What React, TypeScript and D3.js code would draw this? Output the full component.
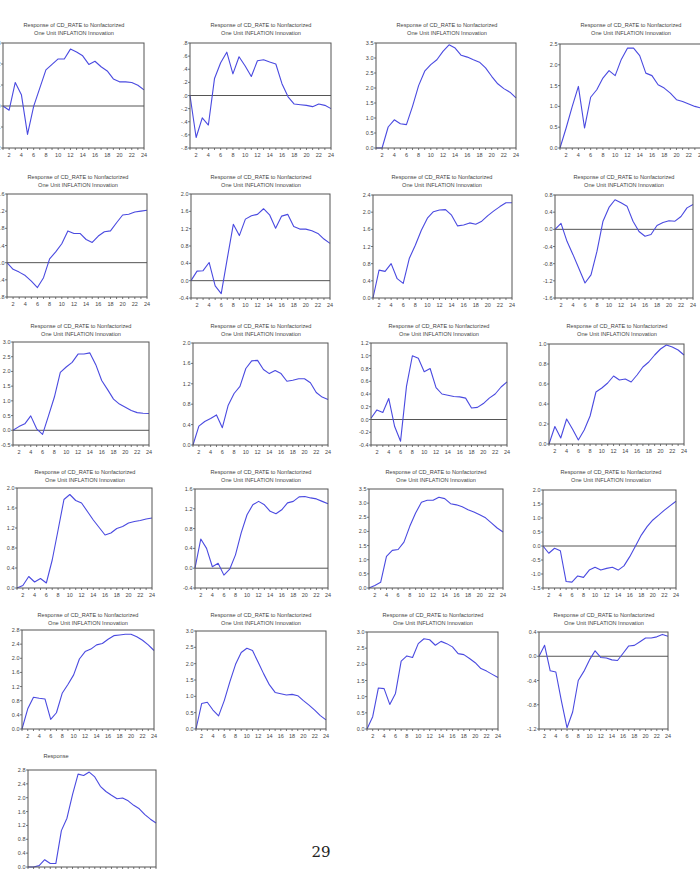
import React from "react";
import * as d3 from "d3";

// ---- categories ----
const periods = [1, 2, 3, 4, 5, 6, 7, 8, 9, 10, 11, 12, 13, 14, 15, 16, 17, 18, 19, 20, 21, 22, 23, 24];
const xTickLabels = ["2", "4", "6", "8", "10", "12", "14", "16", "18", "20", "22", "24"];

const titleLine1 = "Response of CD_RATE to Nonfactorized";
const titleLine2 = "One Unit INFLATION Innovation";
const lastTitle = "Response";
const pageNumber = "29";

// ---- y tick labels per panel ----
const yt1 = ["3", "2", "1", "0", "-1", "-2"];
const yt2 = [".8", ".6", ".4", ".2", ".0", "-.2", "-.4", "-.6", "-.8"];
const yt3 = ["3.5", "3.0", "2.5", "2.0", "1.5", "1.0", "0.5", "0.0"];
const yt4 = ["2.5", "2.0", "1.5", "1.0", "0.5", "0.0"];
const yt5 = ["1.6", "1.2", "0.8", "0.4", "0.0", "-0.4", "-0.8"];
const yt6 = ["2.0", "1.6", "1.2", "0.8", "0.4", "0.0", "-0.4"];
const yt7 = ["2.4", "2.0", "1.6", "1.2", "0.8", "0.4", "0.0"];
const yt8 = ["0.8", "0.4", "0.0", "-0.4", "-0.8", "-1.2", "-1.6"];
const yt9 = ["3.0", "2.5", "2.0", "1.5", "1.0", "0.5", "0.0", "-0.5"];
const yt10 = ["2.0", "1.6", "1.2", "0.8", "0.4", "0.0"];
const yt11 = ["1.2", "1.0", "0.8", "0.6", "0.4", "0.2", "0.0", "-0.2", "-0.4"];
const yt12 = ["1.0", "0.8", "0.6", "0.4", "0.2", "0.0"];
const yt13 = ["2.0", "1.6", "1.2", "0.8", "0.4", "0.0"];
const yt14 = ["1.6", "1.2", "0.8", "0.4", "0.0", "-0.4"];
const yt15 = ["3.5", "3.0", "2.5", "2.0", "1.5", "1.0", "0.5", "0.0"];
const yt16 = ["2.0", "1.5", "1.0", "0.5", "0.0", "-0.5", "-1.0", "-1.5"];
const yt17 = ["2.8", "2.4", "2.0", "1.6", "1.2", "0.8", "0.4", "0.0"];
const yt18 = ["3.0", "2.5", "2.0", "1.5", "1.0", "0.5", "0.0"];
const yt19 = ["3.0", "2.5", "2.0", "1.5", "1.0", "0.5", "0.0"];
const yt20 = ["0.4", "0.0", "-0.4", "-0.8", "-1.2"];
const yt21 = ["2.8", "2.4", "2.0", "1.6", "1.2", "0.8", "0.4", "0.0"];

// ---- series values (responses, periods 1..24) ----
const s1 = [0, -0.2, 1.12, 0.54, -1.35, -0.02, 0.85, 1.72, 1.98, 2.24, 2.24, 2.71, 2.57, 2.39, 1.98, 2.13, 1.87, 1.67, 1.29, 1.15, 1.15, 1.12, 0.99, 0.77];
const s2 = [0, -0.64, -0.34, -0.45, 0.26, 0.5, 0.66, 0.33, 0.59, 0.45, 0.29, 0.53, 0.545, 0.51, 0.48, 0.18, -0.02, -0.13, -0.14, -0.15, -0.17, -0.13, -0.15, -0.2];
const s3 = [0, 0, 0.7, 0.94, 0.81, 0.78, 1.39, 2.08, 2.56, 2.78, 2.94, 3.22, 3.44, 3.33, 3.09, 3.03, 2.94, 2.86, 2.67, 2.39, 2.14, 1.98, 1.86, 1.67];
const s4 = [0, 0.48, 1.0, 1.48, 0.48, 1.22, 1.4, 1.68, 1.86, 1.74, 2.13, 2.4, 2.4, 2.22, 1.8, 1.74, 1.52, 1.44, 1.32, 1.16, 1.12, 1.06, 1.0, 0.96];
const s5 = [0, -0.155, -0.22, -0.3, -0.43, -0.58, -0.35, 0.09, 0.25, 0.44, 0.74, 0.68, 0.68, 0.54, 0.47, 0.62, 0.72, 0.74, 0.93, 1.11, 1.13, 1.18, 1.2, 1.22];
const s6 = [0, 0.22, 0.23, 0.42, -0.12, -0.3, 0.51, 1.3, 1.04, 1.42, 1.5, 1.53, 1.66, 1.52, 1.21, 1.49, 1.53, 1.25, 1.19, 1.19, 1.15, 1.09, 0.96, 0.86];
const s7 = [0, 0.65, 0.62, 0.8, 0.45, 0.34, 0.92, 1.23, 1.58, 1.86, 2.01, 2.05, 2.06, 1.93, 1.68, 1.7, 1.75, 1.72, 1.79, 1.92, 2.03, 2.13, 2.22, 2.22];
const s8 = [0, 0.14, -0.28, -0.59, -0.92, -1.25, -1.06, -0.51, 0.19, 0.51, 0.69, 0.62, 0.54, 0.19, -0.05, -0.16, -0.12, 0.09, 0.16, 0.2, 0.19, 0.3, 0.5, 0.58];
const s9 = [0, 0.125, 0.22, 0.49, 0.05, -0.14, 0.49, 1.13, 1.97, 2.15, 2.31, 2.59, 2.59, 2.63, 2.23, 1.69, 1.38, 1.06, 0.89, 0.78, 0.67, 0.6, 0.58, 0.57];
const s10 = [0, 0.37, 0.46, 0.52, 0.59, 0.34, 0.78, 1.01, 1.15, 1.5, 1.65, 1.66, 1.48, 1.4, 1.46, 1.4, 1.25, 1.27, 1.3, 1.3, 1.22, 1.03, 0.94, 0.89];
const s11 = [0.02, 0.15, 0.11, 0.33, -0.11, -0.34, 0.52, 1.0, 0.96, 0.75, 0.8, 0.5, 0.4, 0.38, 0.36, 0.355, 0.335, 0.18, 0.19, 0.25, 0.335, 0.4, 0.51, 0.59];
const s12 = [0, 0.175, 0.06, 0.25, 0.15, 0.04, 0.14, 0.28, 0.52, 0.56, 0.61, 0.68, 0.64, 0.65, 0.62, 0.69, 0.77, 0.82, 0.89, 0.95, 0.99, 0.97, 0.94, 0.89];
const s13 = [0, 0.05, 0.23, 0.12, 0.19, 0.1, 0.56, 1.16, 1.77, 1.87, 1.75, 1.7, 1.53, 1.36, 1.21, 1.06, 1.1, 1.19, 1.23, 1.3, 1.33, 1.35, 1.38, 1.4];
const s14 = [0, 0.59, 0.4, 0.03, 0.1, -0.14, -0.02, 0.27, 0.72, 1.08, 1.28, 1.35, 1.28, 1.15, 1.1, 1.18, 1.32, 1.35, 1.44, 1.45, 1.42, 1.4, 1.35, 1.3];
const s15 = [0, 0.09, 0.2, 1.12, 1.33, 1.36, 1.62, 2.18, 2.65, 3.03, 3.1, 3.1, 3.21, 3.16, 2.98, 2.94, 2.87, 2.77, 2.69, 2.59, 2.48, 2.3, 2.12, 1.98];
const s16 = [0, -0.26, -0.08, -0.17, -1.27, -1.29, -1.07, -1.12, -0.86, -0.76, -0.86, -0.8, -0.76, -0.86, -0.71, -0.38, 0.0, 0.39, 0.69, 0.93, 1.1, 1.28, 1.44, 1.6];
const s17 = [0, 0.57, 0.9, 0.87, 0.85, 0.27, 0.46, 1.01, 1.26, 1.53, 1.98, 2.19, 2.26, 2.38, 2.42, 2.54, 2.64, 2.66, 2.68, 2.68, 2.61, 2.51, 2.38, 2.22];
const s18 = [0, 0.78, 0.82, 0.58, 0.4, 0.87, 1.45, 1.98, 2.34, 2.47, 2.4, 2.04, 1.68, 1.35, 1.12, 1.08, 1.04, 1.06, 1.02, 0.87, 0.73, 0.58, 0.41, 0.28];
const s19 = [0, 0.38, 1.27, 1.25, 0.76, 1.1, 2.1, 2.26, 2.21, 2.64, 2.79, 2.76, 2.59, 2.71, 2.64, 2.54, 2.33, 2.3, 2.18, 2.05, 1.87, 1.79, 1.69, 1.59];
const s20 = [0, 0.18, -0.24, -0.26, -0.74, -1.18, -0.92, -0.4, -0.25, -0.06, 0.09, -0.02, -0.03, -0.06, -0.07, 0.05, 0.17, 0.18, 0.24, 0.3, 0.3, 0.32, 0.36, 0.33];
const s21 = [0, 0, 0.04, 0.21, 0.1, 0.1, 1.05, 1.41, 2.09, 2.68, 2.64, 2.74, 2.6, 2.33, 2.18, 2.07, 1.97, 1.99, 1.91, 1.78, 1.68, 1.51, 1.38, 1.27];

const seriesList = [s1, s2, s3, s4, s5, s6, s7, s8, s9, s10, s11, s12, s13, s14, s15, s16, s17, s18, s19, s20, s21];
const tickList = [yt1, yt2, yt3, yt4, yt5, yt6, yt7, yt8, yt9, yt10, yt11, yt12, yt13, yt14, yt15, yt16, yt17, yt18, yt19, yt20, yt21];

// ---- layout (pixel boxes of each panel) ----
type Box = { l: number; r: number; t: number; b: number; tx: number; ty: number; single?: boolean };
const layout: Box[] = [
  { l: 3, r: 144, t: 43, b: 148, tx: 74, ty: 25 },
  { l: 190, r: 331, t: 43, b: 148, tx: 261, ty: 25 },
  { l: 376, r: 516, t: 43, b: 148, tx: 447, ty: 25 },
  { l: 560, r: 701, t: 44, b: 148, tx: 631, ty: 25 },
  { l: 7, r: 147, t: 194, b: 297, tx: 78, ty: 177 },
  { l: 191, r: 330, t: 194, b: 298, tx: 261, ty: 177 },
  { l: 373, r: 512, t: 195, b: 298, tx: 442, ty: 177 },
  { l: 555, r: 693, t: 195, b: 298, tx: 624, ty: 177 },
  { l: 13, r: 149, t: 342, b: 445, tx: 81, ty: 326 },
  { l: 193, r: 328, t: 343, b: 445, tx: 261, ty: 326 },
  { l: 371, r: 507, t: 343, b: 445, tx: 439, ty: 326 },
  { l: 549, r: 684, t: 344, b: 444, tx: 617, ty: 326 },
  { l: 17, r: 152, t: 488, b: 588, tx: 85, ty: 472 },
  { l: 195, r: 328, t: 489, b: 588, tx: 261, ty: 472 },
  { l: 369, r: 503, t: 489, b: 588, tx: 436, ty: 472 },
  { l: 543, r: 676, t: 490, b: 588, tx: 611, ty: 472 },
  { l: 22, r: 154, t: 630, b: 729, tx: 88, ty: 615 },
  { l: 196, r: 326, t: 631, b: 729, tx: 261, ty: 615 },
  { l: 367, r: 498, t: 632, b: 729, tx: 433, ty: 615 },
  { l: 539, r: 668, t: 632, b: 729, tx: 604, ty: 615 },
  { l: 28, r: 156, t: 770, b: 867, tx: 56, ty: 756, single: true },
];

const FONT = "'Liberation Sans', Arial, sans-serif";
const LINE_COLOR = "#4a4ae0";
const FRAME = "#555";
const TXT = "#444";

function Panel({ box, values, ticks }: { box: Box; values: number[]; ticks: string[] }) {
  const tickVals = ticks.map((t) => parseFloat(t));
  const x = d3.scaleLinear().domain([periods[0], periods[periods.length - 1]]).range([box.l, box.r]);
  const y = d3.scaleLinear().domain([d3.min(tickVals)!, d3.max(tickVals)!]).range([box.b, box.t]);
  const line = d3
    .line<number>()
    .x((_, i) => x(periods[i]))
    .y((d) => y(d));
  const hasZero = y.domain()[0] < 0 && y.domain()[1] > 0;
  return (
    <g>
      {box.single ? (
        <text x={box.tx} y={box.ty + 2} fontSize={5.6} textAnchor="middle" fill={TXT} fontFamily={FONT}>
          {lastTitle}
        </text>
      ) : (
        <g fontSize={5.6} textAnchor="middle" fill={TXT} fontFamily={FONT}>
          <text x={box.tx} y={box.ty + 2}>{titleLine1}</text>
          <text x={box.tx} y={box.ty + 9.5}>{titleLine2}</text>
        </g>
      )}
      {hasZero && (
        <line x1={box.l} x2={box.r} y1={y(0)} y2={y(0)} stroke="#555" strokeWidth={1} />
      )}
      <path d={line(values) || ""} fill="none" stroke={LINE_COLOR} strokeWidth={1.1} strokeLinejoin="round" />
      <rect x={box.l} y={box.t} width={box.r - box.l} height={box.b - box.t} fill="none" stroke={FRAME} strokeWidth={1} />
      {/* y ticks */}
      {ticks.map((t, i) => (
        <g key={"y" + i}>
          <line x1={box.l - 2} x2={box.l} y1={y(tickVals[i])} y2={y(tickVals[i])} stroke={FRAME} strokeWidth={0.8} />
          <text x={box.l - 2.5} y={y(tickVals[i]) + 2} fontSize={5.5} textAnchor="end" fill={TXT} fontFamily={FONT}>
            {t}
          </text>
        </g>
      ))}
      {/* x ticks */}
      {periods.map((p) => (
        <line key={"xt" + p} x1={x(p)} x2={x(p)} y1={box.b} y2={box.b + 2} stroke={FRAME} strokeWidth={0.8} />
      ))}
      {xTickLabels.map((t) => (
        <text key={"xl" + t} x={x(+t)} y={box.b + 9} fontSize={5.5} textAnchor="middle" fill={TXT} fontFamily={FONT}>
          {t}
        </text>
      ))}
    </g>
  );
}

export default function App() {
  return (
    <svg
      width={700}
      height={872}
      style={{ position: "absolute", left: 0, top: 0, background: "#fff" }}
    >
      <rect x={0} y={0} width={700} height={872} fill="#fff" />
      {layout.map((box, i) => (
        <Panel key={i} box={box} values={seriesList[i]} ticks={tickList[i]} />
      ))}
      <text x={321} y={857} fontSize={15} textAnchor="middle" fill="#222" fontFamily="'DejaVu Serif', 'Liberation Serif', serif">
        {pageNumber}
      </text>
    </svg>
  );
}
